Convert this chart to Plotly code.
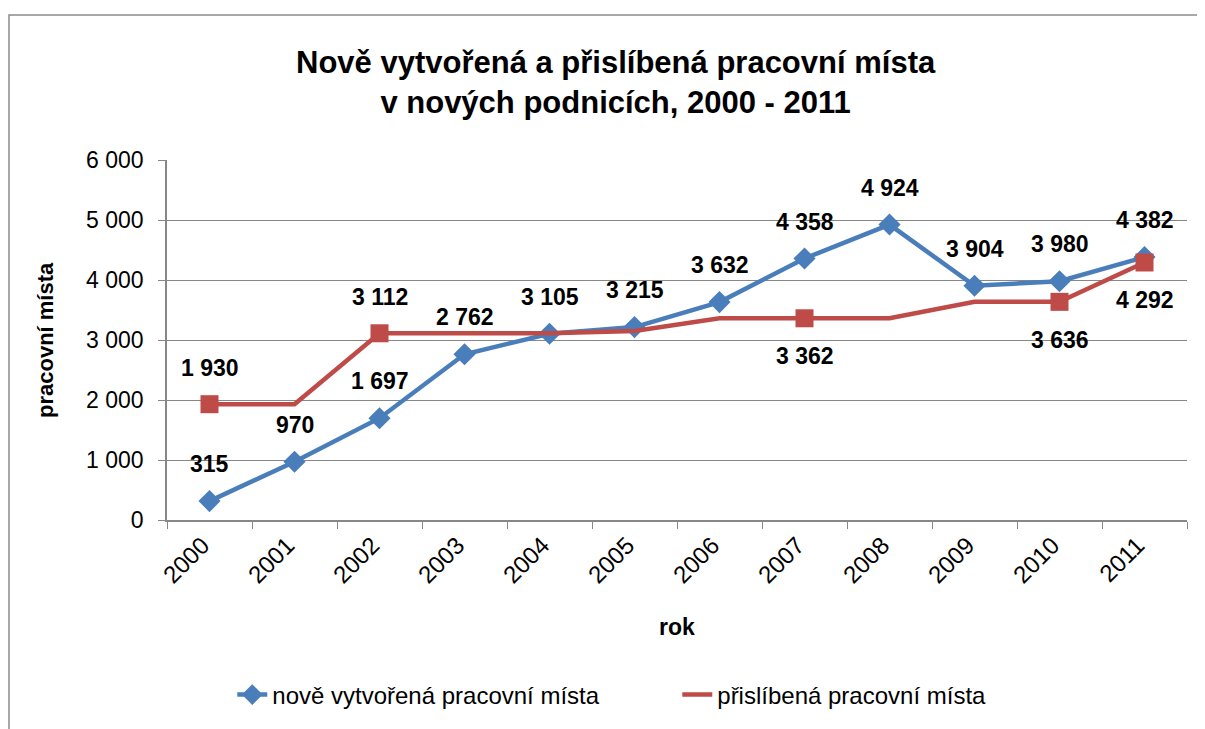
import plotly.graph_objects as go

years = ["2000", "2001", "2002", "2003", "2004", "2005", "2006", "2007", "2008", "2009", "2010", "2011"]
new_jobs = [315, 970, 1697, 2762, 3105, 3215, 3632, 4358, 4924, 3904, 3980, 4382]
promised_jobs = [1930, 1930, 3112, 3112, 3112, 3150, 3362, 3362, 3362, 3636, 3636, 4292]
promised_marked = ["2000", "2002", "2007", "2010", "2011"]
y_ticks = [0, 1000, 2000, 3000, 4000, 5000, 6000]

BLUE = "#4A7EBB"
RED = "#BE4B48"
FONT = "Liberation Sans"


def fmt(v):
    return f"{v:,}".replace(",", " ")


fig = go.Figure()
fig.add_trace(go.Scatter(
    x=years, y=new_jobs, mode="lines+markers", name="nově vytvořená pracovní místa",
    line=dict(color=BLUE, width=4.5),
    marker=dict(symbol="diamond", size=17, color=BLUE),
))
fig.add_trace(go.Scatter(
    x=years, y=promised_jobs, mode="lines", name="přislíbená pracovní místa",
    line=dict(color=RED, width=4.5),
))
mk_idx = [i for i, y in enumerate(years) if y in promised_marked]
mk_x = [years[i] for i in mk_idx]
mk_y = [promised_jobs[i] for i in mk_idx]
fig.add_trace(go.Scatter(
    x=mk_x, y=mk_y, mode="markers", showlegend=False,
    marker=dict(symbol="square", size=18, color=RED),
))

lab_font = dict(family=FONT, size=23, color="black")
for i, v in enumerate(new_jobs):
    fig.add_annotation(x=i, y=v, text=f"<b>{fmt(v)}</b>", showarrow=False,
                       yshift=37, font=lab_font)
for k, (i, v) in enumerate(zip(mk_idx, mk_y)):
    shift = 36 if k < 2 else -38
    fig.add_annotation(x=i, y=v, text=f"<b>{fmt(v)}</b>", showarrow=False,
                       yshift=shift, font=lab_font)

fig.add_annotation(
    x=0.44, y=1.215, xref="paper", yref="paper", yanchor="middle",
    xanchor="center", showarrow=False,
    text="<b>Nově vytvořená a přislíbená pracovní místa<br>v nových podnicích, 2000 - 2011</b>",
    font=dict(family=FONT, size=31, color="black"),
)
fig.add_annotation(
    x=0.5, y=-0.297, xref="paper", yref="paper", yanchor="middle", xanchor="center",
    showarrow=False, text="<b>rok</b>", font=dict(family=FONT, size=23, color="black"),
)
fig.add_annotation(
    x=-0.1196, y=0.5, xref="paper", yref="paper", yanchor="middle", xanchor="center",
    showarrow=False, textangle=-90, text="<b>pracovní místa</b>",
    font=dict(family=FONT, size=22, color="black"),
)

# outer chart frame (top and left edges visible)
fig.add_shape(type="rect", xref="paper", yref="paper",
              x0=-0.1549, y0=-0.7, x1=1.2, y1=1.403,
              line=dict(color="#8C8C8C", width=1.5), fillcolor="rgba(0,0,0,0)")

fig.update_layout(
    width=1197, height=721,
    margin=dict(l=159, r=18, t=152, b=209),
    plot_bgcolor="white", paper_bgcolor="white",
    separators=". ",
    font=dict(family=FONT, color="black"),
    showlegend=True,
    legend=dict(orientation="h", x=0.064, xanchor="left", y=-0.486, yanchor="middle",
                font=dict(family=FONT, size=24), tracegroupgap=0,
                entrywidthmode="pixels", entrywidth=400),
    xaxis=dict(
        type="category", tickangle=-45, tickfont=dict(family=FONT, size=24),
        showgrid=False, showline=True, linecolor="#878787", linewidth=1.5,
        ticks="outside", tickson="boundaries", ticklen=7, tickcolor="#878787",
        ticklabelshift=-7,
        range=[-0.5, 11.5],
    ),
    yaxis=dict(
        range=[0, 6000], tickvals=y_ticks, tickformat=",d",
        tickfont=dict(family=FONT, size=23),
        showgrid=True, gridcolor="#878787", gridwidth=1,
        showline=True, linecolor="#878787", linewidth=1.5,
        ticks="outside", ticklen=7, tickcolor="#878787",
        ticklabelstandoff=10,
        zeroline=False,
    ),
)

fig.write_html("out.html")
